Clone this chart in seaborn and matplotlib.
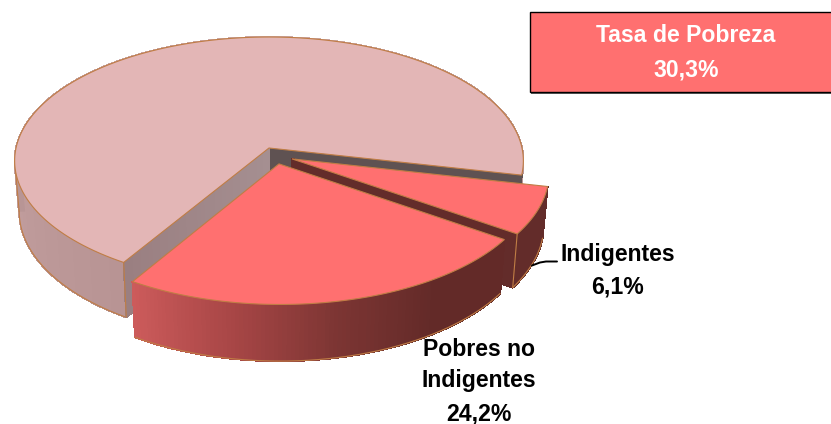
import numpy as np
import matplotlib
matplotlib.use("Agg")
import matplotlib.pyplot as plt
import seaborn as sns

categories = ["Resto", "Pobres no\nIndigentes", "Indigentes"]
shares = [69.7, 24.2, 6.1]
value_labels = ["", "24,2%", "6,1%"]
title_lines = ["Tasa de Pobreza", "30,3%"]

# layout of the projected disc (pixels)
CX, CY, RX, RY, K, DEPTH, SHRINK = 269, 148, 253, 122.5, 0.1036, 50, 0.982
START = -12.5
EDGE = "#c07d45"
FONT = "Liberation Sans"
FS = 16.6

sns.set_theme(style="white")
plt.rcParams["font.family"] = [FONT, "DejaVu Sans"]
fig = plt.figure(figsize=(8.31, 4.24), dpi=100)
ax = fig.add_axes([0, 0, 1, 1])
ax.set_xlim(0, 831)
ax.set_ylim(424, 0)
ax.axis("off")


def project(u, v, lower=False):
    w = 1 + K * v
    x = RX * u / w
    y = -RY * v / w
    if lower:
        return CX + x * SHRINK, CY + y + DEPTH / w
    return CX + x, CY + y


def arc(t0, t1, off, n=160):
    t = np.radians(np.linspace(t0, t1, n))
    return np.cos(t) + off[0], np.sin(t) + off[1]


def quad(u0, v0, u1, v1, color, zorder):
    xa, ya = project(np.array([u0, u1]), np.array([v0, v1]))
    xb, yb = project(np.array([u1, u0]), np.array([v1, v0]), lower=True)
    ax.fill(np.r_[xa, xb], np.r_[ya, yb], facecolor=color, edgecolor=color,
            lw=0.8, antialiased=False, zorder=zorder)


def rim(t0, t1, off, colors, zorder):
    u, v = arc(t0, t1, off, n=len(colors) + 1)
    for i, c in enumerate(colors):
        quad(u[i], v[i], u[i + 1], v[i + 1], c, zorder)
    x, y = project(*arc(t0, t1, off), lower=True)
    sns.lineplot(x=x, y=y, sort=False, estimator=None, color=EDGE, lw=0.8, ax=ax, zorder=zorder + 0.1)


def cut_face(t, off, colors, zorder):
    r = np.linspace(0, 1, len(colors) + 1)
    a = np.radians(t)
    u, v = r * np.cos(a) + off[0], r * np.sin(a) + off[1]
    for i, c in enumerate(colors):
        quad(u[i], v[i], u[i + 1], v[i + 1], c, zorder)


def top(t0, t1, off, color, zorder):
    u, v = arc(t0, t1, off)
    x, y = project(np.r_[off[0], u], np.r_[off[1], v])
    ax.fill(x, y, facecolor=color, edgecolor=EDGE, lw=0.8, joinstyle="miter", zorder=zorder)


def vertical(t, off, zorder):
    a = np.radians(t)
    u, v = np.cos(a) + off[0], np.sin(a) + off[1]
    x0, y0 = project(u, v)
    x1, y1 = project(u, v, lower=True)
    ax.plot([x0, x1], [y0, y1], color=EDGE, lw=0.8, zorder=zorder)


def silhouette(t0, t1, off, pick, zorder):
    u, v = arc(t0, t1, off, n=720)
    xa, ya = project(u, v)
    xb, yb = project(u, v, lower=True)
    ia, ib = pick(xa), pick(xb)
    ax.fill([xa[ia], xb[ib], xb[ib] + 6, xa[ia] + 6], [ya[ia], yb[ib], yb[ib], ya[ia]],
            facecolor="#b89595", edgecolor="none", zorder=zorder - 0.05)
    ax.plot([xa[ia], xb[ib]], [ya[ia], yb[ib]], color=EDGE, lw=0.8, zorder=zorder)


sweeps = np.array(shares) * 3.6
main_start, main_end = START, START + sweeps[0]
ind_start, ind_end = START, START - sweeps[2]
pob_start, pob_end = ind_end, ind_end - sweeps[1]

off_main, off_ind, off_pob = (0, 0), (0.09, -0.088), (0.039, -0.128)

# main slice
rim(main_start, main_end, off_main, sns.blend_palette(["#b89595", "#ccaaaa", "#c8a4a4", "#b89494"], 140), 1)
silhouette(main_start, main_end, off_main, np.argmin, 1.2)
cut_face(main_start, off_main, ["#5f5252"], 2)
cut_face(main_end, off_main, sns.blend_palette(["#a58f91", "#9a7f81"], 40), 2)
vertical(main_end, off_main, 2.5)
top(main_start, main_end, off_main, "#e3b6b6", 3)

# Indigentes slice
cut_face(ind_end, off_ind, ["#632c2a"], 4)
rim(ind_start, ind_end, off_ind, ["#632c2a"] * 30, 4.2)
vertical(ind_end, off_ind, 4.5)
top(ind_start, ind_end, off_ind, "#ff7070", 5)

# Pobres slice
rim(pob_end, pob_start, off_pob,
    sns.blend_palette(["#cc5b5b", "#a84646", "#7c3533", "#632a28", "#632a28"], 100), 6)
top(pob_start, pob_end, off_pob, "#ff7070", 7)

# title box
ax.fill([531, 833, 833, 531], [14, 14, 94, 94], facecolor="#5f5f5f", edgecolor="none", zorder=8)
ax.fill([530, 833, 833, 530], [12, 12, 92, 92], facecolor="#ff7070", edgecolor="black", lw=1.0, zorder=9)
ax.text(686, 35, title_lines[0], color="white", fontsize=FS, fontweight="bold", ha="center", va="center", zorder=10)
ax.text(686, 70, title_lines[1], color="white", fontsize=FS, fontweight="bold", ha="center", va="center", zorder=10)

# labels
ax.text(618, 254, categories[2], color="black", fontsize=FS, fontweight="bold", ha="center", va="center", zorder=10)
ax.text(618, 287, value_labels[2], color="black", fontsize=FS, fontweight="bold", ha="center", va="center", zorder=10)
lines = categories[1].split("\n") + [value_labels[1]]
for line, yy in zip(lines, [349, 381, 414]):
    ax.text(479, yy, line, color="black", fontsize=FS, fontweight="bold", ha="center", va="center", zorder=10)
ax.plot([532, 540, 546, 557], [265.5, 262.5, 261.5, 261.5], color="black", lw=1.4, zorder=10)

fig.savefig("out.png", dpi=100)
